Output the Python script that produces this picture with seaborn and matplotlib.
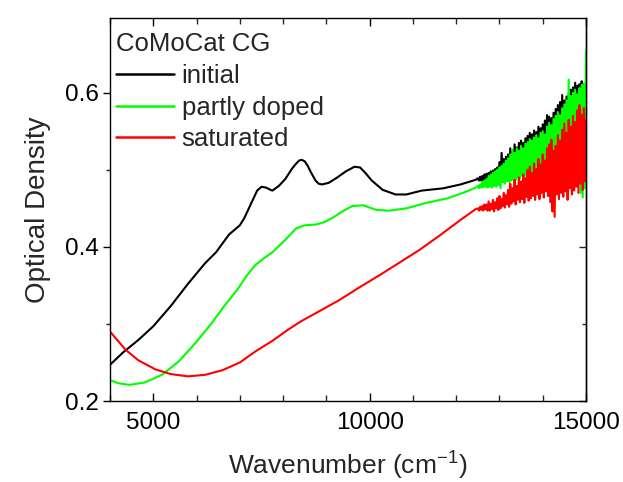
import numpy as np
import pandas as pd
import seaborn as sns
import matplotlib
matplotlib.use("Agg")
import matplotlib.pyplot as plt
from matplotlib.ticker import MultipleLocator

# smooth part of the spectra
wn_initial = [4000, 4300, 4650, 5000, 5400, 5800, 6200, 6450, 6750, 7000, 7100, 7250,
              7400, 7500, 7600, 7750, 7900, 8050, 8200, 8300, 8370, 8430, 8500, 8570,
              8650, 8750, 8820, 8900, 9050, 9250, 9450, 9650, 9780, 9900, 10050, 10300,
              10600, 10850, 11200, 11700, 12100, 12450]
od_initial = [0.247, 0.263, 0.279, 0.297, 0.323, 0.352, 0.379, 0.393, 0.416, 0.428, 0.437, 0.455,
              0.473, 0.478, 0.477, 0.473, 0.479, 0.488, 0.501, 0.508, 0.512, 0.513, 0.511, 0.505,
              0.496, 0.486, 0.482, 0.481, 0.483, 0.490, 0.498, 0.504, 0.503, 0.496, 0.486, 0.474,
              0.468, 0.468, 0.473, 0.476, 0.481, 0.487]

wn_partly = [4000, 4200, 4450, 4800, 5200, 5600, 6000, 6350, 6650, 6950, 7150, 7350,
             7550, 7750, 8050, 8300, 8500, 8750, 8950, 9150, 9400, 9600, 9850, 10150,
             10450, 10850, 11300, 11800, 12250, 12450]
od_partly = [0.227, 0.223, 0.221, 0.224, 0.234, 0.252, 0.277, 0.301, 0.324, 0.345, 0.362, 0.376,
             0.385, 0.393, 0.409, 0.424, 0.428, 0.429, 0.432, 0.438, 0.447, 0.453, 0.454, 0.448,
             0.447, 0.450, 0.457, 0.463, 0.472, 0.477]

wn_saturated = [4000, 4200, 4350, 4650, 5050, 5400, 5800, 6200, 6600, 7000, 7350, 7750,
                8100, 8400, 8850, 9300, 9750, 10250, 10700, 11150, 11600, 12100, 12450]
od_saturated = [0.290, 0.277, 0.267, 0.253, 0.241, 0.235, 0.232, 0.234, 0.240, 0.250, 0.264, 0.278,
                0.292, 0.303, 0.317, 0.331, 0.347, 0.364, 0.380, 0.396, 0.414, 0.435, 0.449]

# noisy high-wavenumber end, 12500..15000 in steps of 25
wn_noisy = list(range(12500, 15001, 25))
od_initial_noisy = [
    0.489, 0.486, 0.491, 0.486, 0.492, 0.486, 0.494, 0.486, 0.495, 0.487,
    0.496, 0.486, 0.498, 0.487, 0.499, 0.488, 0.501, 0.487, 0.503, 0.489,
    0.510, 0.490, 0.522, 0.491, 0.514, 0.493, 0.517, 0.492, 0.520, 0.495,
    0.528, 0.496, 0.524, 0.497, 0.533, 0.498, 0.529, 0.500, 0.535, 0.501,
    0.538, 0.503, 0.535, 0.504, 0.541, 0.505, 0.544, 0.507, 0.548, 0.508,
    0.546, 0.510, 0.551, 0.511, 0.549, 0.513, 0.556, 0.514, 0.554, 0.516,
    0.559, 0.517, 0.564, 0.519, 0.571, 0.520, 0.569, 0.522, 0.567, 0.524,
    0.574, 0.525, 0.579, 0.527, 0.584, 0.528, 0.588, 0.530, 0.597, 0.532,
    0.590, 0.534, 0.595, 0.535, 0.599, 0.537, 0.604, 0.538, 0.607, 0.540,
    0.613, 0.541, 0.609, 0.543, 0.611, 0.510, 0.615, 0.544, 0.606, 0.546,
    0.600]
od_partly_noisy = [
    0.479, 0.476, 0.481, 0.477, 0.484, 0.477, 0.486, 0.478, 0.488, 0.477,
    0.492, 0.478, 0.494, 0.477, 0.496, 0.479, 0.498, 0.478, 0.500, 0.480,
    0.503, 0.476, 0.505, 0.484, 0.508, 0.482, 0.512, 0.485, 0.515, 0.484,
    0.520, 0.486, 0.526, 0.488, 0.522, 0.487, 0.528, 0.490, 0.525, 0.489,
    0.531, 0.492, 0.528, 0.491, 0.534, 0.494, 0.536, 0.493, 0.540, 0.495,
    0.538, 0.497, 0.542, 0.496, 0.545, 0.499, 0.541, 0.500, 0.548, 0.502,
    0.550, 0.503, 0.546, 0.505, 0.556, 0.504, 0.561, 0.507, 0.558, 0.509,
    0.566, 0.510, 0.570, 0.508, 0.575, 0.512, 0.571, 0.513, 0.580, 0.515,
    0.585, 0.516, 0.590, 0.514, 0.617, 0.518, 0.596, 0.520, 0.600, 0.517,
    0.604, 0.521, 0.598, 0.490, 0.606, 0.470, 0.610, 0.464, 0.612, 0.476,
    0.654]
od_saturated_noisy = [
    0.450, 0.447, 0.452, 0.448, 0.453, 0.447, 0.455, 0.449, 0.455, 0.447,
    0.459, 0.447, 0.456, 0.449, 0.461, 0.446, 0.458, 0.450, 0.463, 0.448,
    0.466, 0.450, 0.462, 0.453, 0.470, 0.451, 0.467, 0.455, 0.474, 0.452,
    0.482, 0.456, 0.476, 0.459, 0.487, 0.455, 0.479, 0.461, 0.490, 0.458,
    0.485, 0.462, 0.494, 0.457, 0.489, 0.465, 0.500, 0.460, 0.504, 0.463,
    0.496, 0.466, 0.508, 0.461, 0.501, 0.468, 0.514, 0.462, 0.507, 0.470,
    0.520, 0.464, 0.512, 0.472, 0.528, 0.466, 0.533, 0.458, 0.539, 0.446,
    0.525, 0.439, 0.531, 0.468, 0.545, 0.462, 0.538, 0.470, 0.552, 0.465,
    0.560, 0.472, 0.548, 0.461, 0.565, 0.476, 0.556, 0.468, 0.570, 0.473,
    0.562, 0.478, 0.577, 0.470, 0.584, 0.482, 0.571, 0.474, 0.580, 0.485,
    0.565]

labels = ["initial", "partly doped", "saturated"]
colors = ["#000000", "#00ff00", "#ff0000"]

frames = []
for lab, wn, od, odn in [
    ("initial", wn_initial, od_initial, od_initial_noisy),
    ("partly doped", wn_partly, od_partly, od_partly_noisy),
    ("saturated", wn_saturated, od_saturated, od_saturated_noisy),
]:
    frames.append(pd.DataFrame({"Wavenumber": wn + wn_noisy, "OD": od + odn, "Sample": lab}))
df = pd.concat(frames, ignore_index=True)

sns.set_style("ticks")
plt.rcParams["font.family"] = ["Liberation Sans", "DejaVu Sans"]
plt.rcParams["mathtext.fontset"] = "custom"
plt.rcParams["mathtext.rm"] = "Liberation Sans"
plt.rcParams["mathtext.it"] = "Liberation Sans:italic"

fig = plt.figure(figsize=(6.23, 4.82), dpi=100)
ax = fig.add_axes([0.1766, 0.168, 0.764, 0.7947])

for lab, col in zip(labels, colors):
    sub = df[df["Sample"] == lab]
    sns.lineplot(data=sub, x="Wavenumber", y="OD", color=col, lw=1.5,
                 sort=False, estimator=None, label=lab, ax=ax)

ax.set_xlim(4000, 15000)
ax.set_ylim(0.2, 0.697)
ax.xaxis.set_major_locator(MultipleLocator(5000))
ax.xaxis.set_minor_locator(MultipleLocator(1000))
ax.yaxis.set_major_locator(MultipleLocator(0.2))
ax.yaxis.set_minor_locator(MultipleLocator(0.1))
ax.yaxis.set_major_formatter(plt.FuncFormatter(lambda v, p: f"{v:.1f}"))

for s in ax.spines.values():
    s.set_linewidth(1.0)
    s.set_color("black")
    s.set_visible(True)

ax.tick_params(axis="x", which="major", direction="in", length=6, width=1.0,
               top=True, labelsize=17.5, pad=8, colors="black")
ax.tick_params(axis="x", which="minor", direction="in", length=4, width=1.0, top=True)
ax.tick_params(axis="y", which="major", direction="out", length=5, width=1.0,
               labelsize=17.5, pad=3, colors="black")
ax.tick_params(axis="y", which="minor", direction="out", length=3, width=1.0)
# right axis ticks point inward
ax2 = ax.secondary_yaxis("right")
ax2.yaxis.set_major_locator(MultipleLocator(0.2))
ax2.yaxis.set_minor_locator(MultipleLocator(0.1))
ax2.tick_params(which="major", direction="in", length=5, width=1.0, labelright=False)
ax2.tick_params(which="minor", direction="in", length=3, width=1.0)
ax2.spines["right"].set_linewidth(1.0)

ax.set_xlabel("Wavenumber (cm$^{-1}$)", fontsize=19, labelpad=11)
ax.set_ylabel("Optical Density", fontsize=20, labelpad=10)

leg = ax.legend(title="CoMoCat CG", loc="upper left", bbox_to_anchor=(-0.017, 1.0),
                frameon=False, fontsize=18.5, title_fontsize=18.5, handlelength=2.25,
                handletextpad=0.3, labelspacing=0.3, borderaxespad=0.35, borderpad=0.2,
                alignment="left")
for h in leg.get_lines():
    h.set_linewidth(1.8)

fig.savefig("out.png", dpi=100)
